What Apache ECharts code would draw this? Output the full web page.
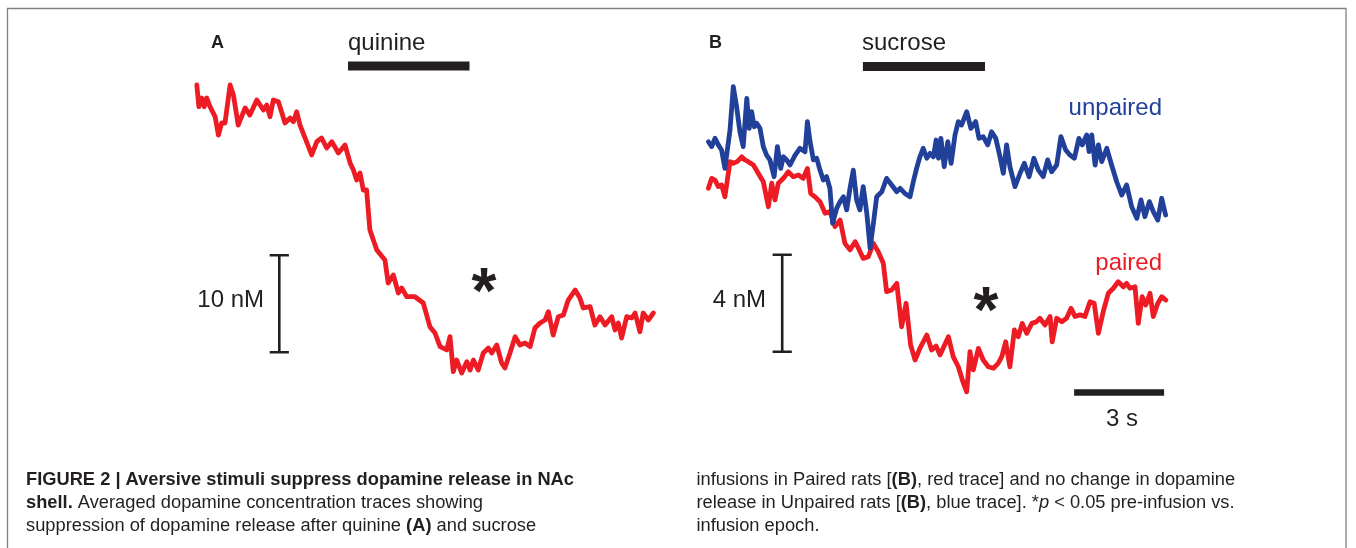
<!DOCTYPE html>
<html>
<head>
<meta charset="utf-8">
<script src="https://cdn.jsdelivr.net/npm/echarts@6/dist/echarts.min.js"></script>
<style>
html,body{margin:0;padding:0;background:#fff;}
#chart{width:1356px;height:548px;}
</style>
</head>
<body>
<div id="chart"></div>
<script>
// ---- Data (time in s relative to infusion onset, dopamine change in nM) ----
const quinineTrace = [
[-5.04,1.55],[-4.97,-0.69],[-4.88,0.21],[-4.79,-0.69],[-4.71,0.21],[-4.6,-0.69],[-4.43,-1.72],[-4.32,-3.61],
[-4.21,-2.37],[-4.1,-2.37],[-3.93,1.55],[-3.82,0.52],[-3.66,-2.58],[-3.43,-0.82],[-3.27,-1.55],[-3.04,0],
[-2.82,-1.03],[-2.71,-0.52],[-2.6,-1.72],[-2.49,0],[-2.32,-0.18],[-2.1,-2.37],[-1.93,-1.86],[-1.82,-2.24],
[-1.71,-1.21],[-1.6,-2.58],[-1.43,-3.92],[-1.21,-5.67],[-1.04,-4.3],[-0.88,-3.92],[-0.71,-4.95],[-0.54,-4.3],
[-0.32,-5.46],[-0.1,-4.64],[0.07,-6.49],[0.18,-7.22],[0.29,-8.25],[0.4,-7.53],[0.51,-9.28],[0.62,-9.28],
[0.73,-13.4],[0.96,-15.46],[1.23,-16.49],[1.34,-18.87],[1.51,-18.04],[1.68,-19.9],[1.79,-19.38],[1.96,-20.28],
[2.23,-20.28],[2.51,-20.93],[2.73,-23.37],[2.9,-24.02],[3.07,-25.43],[3.29,-25.77],[3.4,-24.4],[3.51,-28.01],
[3.62,-26.8],[3.79,-28.14],[3.96,-26.98],[4.07,-27.84],[4.18,-26.8],[4.34,-27.84],[4.51,-26.08],[4.68,-25.57],
[4.79,-26.08],[4.96,-25.26],[5.12,-27.11],[5.23,-27.63],[5.4,-26.08],[5.57,-24.4],[5.73,-25.26],[5.9,-25.05],
[6.07,-25.43],[6.23,-23.51],[6.4,-22.99],[6.57,-22.68],[6.68,-21.82],[6.84,-24.23],[7.01,-22.34],[7.18,-22.16],
[7.34,-20.62],[7.57,-19.59],[7.73,-20.41],[7.84,-21.44],[8.07,-21.31],[8.23,-23.2],[8.4,-22.34],[8.57,-23.2],
[8.79,-22.34],[8.9,-23.71],[9.01,-22.99],[9.12,-24.54],[9.29,-22.34],[9.46,-22.47],[9.57,-21.96],[9.73,-23.89],
[9.84,-21.96],[10.01,-22.68],[10.18,-21.96]
];

const unpairedTrace = [
[-5.12,1.99],[-5.01,1.79],[-4.9,2.13],[-4.79,1.86],[-4.68,1.65],[-4.57,0.89],[-4.4,2.47],[-4.29,4.26],
[-4.18,3.44],[-4.07,2.4],[-3.96,1.79],[-3.84,3.78],[-3.76,2.54],[-3.68,3.23],[-3.59,2.61],[-3.51,2.75],
[-3.4,2.54],[-3.29,1.79],[-3.18,1.44],[-3.07,1.24],[-2.93,0.55],[-2.82,1.79],[-2.71,0.89],[-2.62,1.37],
[-2.51,1.24],[-2.4,1.03],[-2.23,1.44],[-2.07,1.72],[-1.9,1.58],[-1.82,2.82],[-1.73,1.99],[-1.62,1.24],
[-1.51,1.31],[-1.4,0.82],[-1.29,0.41],[-1.18,0.55],[-1.07,0.07],[-0.98,-1.37],[-0.84,-0.75],[-0.73,-0.48],
[-0.62,-0.28],[-0.51,-0.82],[-0.4,0.07],[-0.29,0.82],[-0.18,-0.41],[-0.07,-0.82],[0.04,0.14],[0.16,-0.96],
[0.27,-2.4],[0.38,-1.37],[0.49,-0.28],[0.66,-0.07],[0.82,0.48],[0.99,0.21],[1.16,-0.07],[1.27,0.07],
[1.43,-0.14],[1.6,-0.28],[1.71,0.34],[1.82,0.89],[1.93,1.37],[2.04,1.72],[2.16,1.31],[2.27,1.51],
[2.38,1.37],[2.47,2.06],[2.55,1.31],[2.63,2.13],[2.74,0.96],[2.86,1.99],[2.97,1.1],[3.1,2.27],
[3.21,2.82],[3.32,2.68],[3.49,3.23],[3.63,2.54],[3.79,2.82],[3.9,2.13],[4.04,2.2],[4.19,1.86],
[4.32,2.4],[4.46,2.13],[4.6,1.37],[4.71,0.69],[4.82,1.86],[4.93,0.96],[5.1,0.14],[5.27,0.69],
[5.41,1.1],[5.57,0.55],[5.73,1.31],[5.88,0.82],[6.04,0.55],[6.19,1.24],[6.32,0.75],[6.49,1.03],
[6.63,2.2],[6.79,1.65],[6.93,1.44],[7.08,1.31],[7.23,2.13],[7.34,1.86],[7.49,2.27],[7.57,1.58],
[7.66,2.27],[7.77,1.03],[7.88,1.86],[7.99,1.17],[8.16,1.72],[8.32,1.03],[8.49,0.34],[8.66,-0.21],
[8.82,0.21],[8.99,-0.69],[9.16,-1.17],[9.3,-0.41],[9.43,-1.1],[9.58,-0.48],[9.71,-0.89],[9.86,-1.24],
[9.99,-0.34],[10.12,-1.03]
];

const pairedTrace = [
[-5.12,0.07],[-5.01,0.48],[-4.9,0.41],[-4.79,0.14],[-4.68,0.21],[-4.57,-0.28],[-4.4,1.17],[-4.29,1.1],
[-4.16,1.17],[-4.01,1.37],[-3.9,1.24],[-3.79,1.17],[-3.62,1.03],[-3.46,0.69],[-3.29,0.34],[-3.12,-0.69],
[-3.01,0.28],[-2.9,-0.41],[-2.79,0.28],[-2.62,0.48],[-2.46,0.75],[-2.29,0.55],[-2.12,0.62],[-1.96,0.48],
[-1.82,0.89],[-1.71,-0.14],[-1.57,-0.28],[-1.4,-0.48],[-1.23,-0.96],[-1.07,-0.89],[-0.9,-1.51],[-0.73,-1.24],
[-0.57,-2.2],[-0.4,-2.47],[-0.23,-2.13],[-0.09,-2.47],[0.04,-2.82],[0.21,-2.75],[0.38,-2.2],[0.54,-2.54],
[0.71,-3.02],[0.82,-4.19],[0.99,-4.12],[1.16,-3.85],[1.32,-5.64],[1.47,-4.67],[1.62,-6.39],[1.77,-7.01],
[1.93,-6.53],[2.16,-5.98],[2.32,-6.6],[2.47,-6.43],[2.6,-6.8],[2.88,-6.05],[3.04,-6.87],[3.21,-7.29],
[3.38,-7.97],[3.49,-8.32],[3.6,-6.67],[3.71,-7.42],[3.88,-6.53],[4.04,-7.01],[4.21,-7.29],[4.38,-7.35],
[4.54,-7.15],[4.66,-6.87],[4.79,-6.26],[4.93,-7.29],[5.08,-5.77],[5.21,-6.05],[5.34,-5.5],[5.49,-5.91],
[5.66,-5.5],[5.82,-5.43],[5.93,-5.29],[6.1,-5.57],[6.27,-5.22],[6.34,-6.26],[6.49,-5.29],[6.66,-5.43],
[6.82,-5.29],[6.97,-4.88],[7.1,-5.22],[7.27,-5.15],[7.43,-5.22],[7.6,-4.61],[7.74,-4.67],[7.88,-5.91],
[8.04,-5.02],[8.21,-4.26],[8.38,-4.05],[8.54,-3.78],[8.71,-3.99],[8.82,-3.85],[8.93,-4.05],[9.1,-3.99],
[9.21,-5.5],[9.34,-4.4],[9.46,-4.74],[9.6,-4.26],[9.71,-5.22],[9.86,-4.67],[9.99,-4.4],[10.13,-4.54]
];

// infusion epochs [start, end] in s, drawn at a level above the traces (nM units of each panel)
const quinineEpoch = [0, 4.05];
const quinineEpochLevel = 3.5;
const sucroseEpoch = [0.03, 4.1];
const sucroseEpochLevel = 5.09;

// scale bars: [time position, from nM, to nM]
const scaleBarA = [-2.29, -16, -26];   // 10 nM
const scaleBarB = [-2.66, -2.67, -6.67]; // 4 nM
const timeBarB = [7.07, 10.07, -8.35];   // 3 s [from, to, level]

// axis ranges
const xRange = [-5.2, 10.3];
const yRangeA = [-30, 5];
const yRangeB = [-9, 5.5];

const RED = '#ED1C24';
const BLUE = '#21409A';
const INK = '#231F20';
const FONT = '"Liberation Sans", Arial, Helvetica, sans-serif';
const CAP = 18.3;

function seg(gi, a, b, w, color) {
  return {
    type: 'line', xAxisIndex: gi, yAxisIndex: gi, data: [a, b],
    symbol: 'none', silent: true, animation: false, z: 3,
    lineStyle: { width: w, color: color, cap: 'butt' }
  };
}
function trace(gi, data, color, z) {
  return {
    type: 'line', xAxisIndex: gi, yAxisIndex: gi, data: data,
    symbol: 'none', silent: true, animation: false, z: z,
    lineStyle: { width: 4.8, color: color, join: 'round', cap: 'round' }
  };
}
function label(x, y, text, size, color, opts) {
  opts = opts || {};
  return {
    type: 'text', x: x, y: y, silent: true, z: 10,
    style: {
      text: text, fill: color,
      font: (opts.weight || 'normal') + ' ' + size + 'px ' + FONT,
      align: opts.align || 'left', verticalAlign: opts.valign || 'middle',
      textAlign: opts.align || 'left', textVerticalAlign: opts.valign || 'middle',
      rich: opts.rich
    }
  };
}

const capRich = {
  b: { fontWeight: 'bold', fontSize: CAP, fontFamily: FONT, fill: INK, color: INK },
  i: { fontStyle: 'italic', fontSize: CAP, fontFamily: FONT, fill: INK, color: INK }
};

const chart = echarts.init(document.getElementById('chart'), null, { renderer: 'canvas' });

const series = [
  trace(0, quinineTrace, RED, 5),
  trace(1, pairedTrace, RED, 5),
  trace(1, unpairedTrace, BLUE, 6),
  // epoch bars
  seg(0, [quinineEpoch[0], quinineEpochLevel], [quinineEpoch[1], quinineEpochLevel], 9, INK),
  seg(1, [sucroseEpoch[0], sucroseEpochLevel], [sucroseEpoch[1], sucroseEpochLevel], 9, INK),
  // scale bar A
  seg(0, [scaleBarA[0], scaleBarA[1]], [scaleBarA[0], scaleBarA[2]], 2.6, INK),
  seg(0, [scaleBarA[0] - 0.32, scaleBarA[1]], [scaleBarA[0] + 0.32, scaleBarA[1]], 2.6, INK),
  seg(0, [scaleBarA[0] - 0.32, scaleBarA[2]], [scaleBarA[0] + 0.32, scaleBarA[2]], 2.6, INK),
  // scale bar B
  seg(1, [scaleBarB[0], scaleBarB[1]], [scaleBarB[0], scaleBarB[2]], 2.6, INK),
  seg(1, [scaleBarB[0] - 0.32, scaleBarB[1]], [scaleBarB[0] + 0.32, scaleBarB[1]], 2.6, INK),
  seg(1, [scaleBarB[0] - 0.32, scaleBarB[2]], [scaleBarB[0] + 0.32, scaleBarB[2]], 2.6, INK),
  // time bar
  seg(1, [timeBarB[0], timeBarB[2]], [timeBarB[1], timeBarB[2]], 6.5, INK)
];

const graphic = [
  { type: 'rect', silent: true, z: 0,
    shape: { x: 7.5, y: 8.5, width: 1338.5, height: 620 },
    style: { fill: 'none', stroke: '#808080', lineWidth: 1.3 } },
  label(211, 43, 'A', 18, INK, { weight: 'bold' }),
  label(709, 43, 'B', 18, INK, { weight: 'bold' }),
  label(348, 43.5, 'quinine', 24, INK),
  label(862, 43.5, 'sucrose', 24, INK),
  label(1162, 108.5, 'unpaired', 24, BLUE, { align: 'right' }),
  label(1162, 263, 'paired', 24, RED, { align: 'right' }),
  label(264, 300, '10 nM', 24, INK, { align: 'right' }),
  label(766, 300, '4 nM', 24, INK, { align: 'right' }),
  label(1122, 419, '3 s', 24, INK, { align: 'center' }),
  label(484, 295, '*', 64, INK, { align: 'center', weight: 'bold' }),
  label(986, 314, '*', 64, INK, { align: 'center', weight: 'bold' }),
  // caption
  label(26, 480, 'FIGURE 2 | Aversive stimuli suppress dopamine release in NAc', CAP, INK, { weight: 'bold' }),
  label(26, 503, '{b|shell.} Averaged dopamine concentration traces showing', CAP, INK, { rich: capRich }),
  label(26, 526, 'suppression of dopamine release after quinine {b|(A)} and sucrose', CAP, INK, { rich: capRich }),
  label(696.5, 480, 'infusions in Paired rats [{b|(B)}, red trace] and no change in dopamine', CAP, INK, { rich: capRich }),
  label(696.5, 503, 'release in Unpaired rats [{b|(B)}, blue trace]. *{i|p} < 0.05 pre-infusion vs.', CAP, INK, { rich: capRich }),
  label(696.5, 526, 'infusion epoch.', CAP, INK)
];

chart.setOption({
  animation: false,
  backgroundColor: '#ffffff',
  grid: [
    { left: 192, top: 51.5, width: 465, height: 339.5, show: false },
    { left: 706, top: 56.625, width: 465, height: 351.625, show: false }
  ],
  xAxis: [
    { type: 'value', gridIndex: 0, min: xRange[0], max: xRange[1], show: false },
    { type: 'value', gridIndex: 1, min: xRange[0], max: xRange[1], show: false }
  ],
  yAxis: [
    { type: 'value', gridIndex: 0, min: yRangeA[0], max: yRangeA[1], show: false },
    { type: 'value', gridIndex: 1, min: yRangeB[0], max: yRangeB[1], show: false }
  ],
  series: series,
  graphic: graphic
});
</script>
</body>
</html>
